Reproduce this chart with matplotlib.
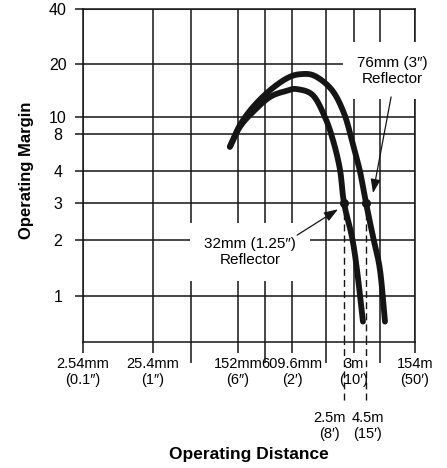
import numpy as np
import matplotlib
matplotlib.use('Agg')
import matplotlib.pyplot as plt
from matplotlib.ticker import NullFormatter, NullLocator

plt.rcParams['font.family'] = ['Liberation Sans', 'DejaVu Sans']
plt.rcParams['font.size'] = 11

# Operating distance (m) vs operating margin
dist_32 = [0.135, 0.160, 0.224, 0.347, 0.536, 0.698, 1.07, 1.48, 1.85, 2.24, 2.5, 2.89, 3.32, 4.06]
margin_32 = [6.3, 8.8, 10.7, 13.0, 14.1, 14.4, 13.3, 10.0, 7.1, 4.1, 3.0, 2.07, 1.38, 0.68]

dist_76 = [0.135, 0.160, 0.224, 0.347, 0.536, 0.757, 1.13, 1.80, 2.5, 2.89, 3.66, 4.5, 5.86, 7.62, 8.41]
margin_76 = [6.3, 9.0, 11.4, 14.2, 16.6, 17.5, 17.1, 14.2, 10.5, 7.1, 4.0, 3.0, 2.07, 1.38, 0.68]

# range at margin 3x
marked_dist = [2.5, 4.5]
marked_margin = [3, 3]
marked_labels = ['2.5m\n(8′)', '4.5m\n(15′)']
marked_shift = [-15, 2]  # label nudge, pixels

x_ticks = [0.00254, 0.0254, 0.152, 0.6096, 3.0, 15.24]
x_labels = ['2.54mm\n(0.1″)', '25.4mm\n(1″)', '152mm\n(6″)', '609.6mm\n(2′)', '3m\n(10′)', '154m\n(50′)']
x_minor = [0.0762, 0.3048, 1.524, 7.62]
y_ticks = [1, 2, 3, 4, 8, 10, 20, 40]

# the printed chart spaces its grid lines unevenly -> piecewise log scale
X_ANCHOR = [0.00254, 0.0254, 0.0762, 0.152, 0.3048, 0.6096, 1.524, 2.5, 3.0, 4.5, 7.62, 15.24]
X_POS = [0, 70, 108, 155, 182, 209, 243, 261, 271, 283, 297, 332]
Y_ANCHOR = [0.5, 1, 2, 3, 4, 8, 10, 20, 40]
Y_POS = [0, 46, 102, 139, 171, 208, 225, 278, 333]


def fwd_x(v):
    return np.interp(np.log10(np.maximum(v, 1e-9)), np.log10(X_ANCHOR), X_POS)


def inv_x(p):
    return 10 ** np.interp(p, X_POS, np.log10(X_ANCHOR))


def fwd_y(v):
    return np.interp(np.log10(np.maximum(v, 1e-9)), np.log10(Y_ANCHOR), Y_POS)


def inv_y(p):
    return 10 ** np.interp(p, Y_POS, np.log10(Y_ANCHOR))


def smooth(xs, ys, n=16):
    """Catmull-Rom through the points, done in scale space."""
    p = np.column_stack([fwd_x(np.asarray(xs)), fwd_y(np.asarray(ys))])
    p = np.vstack([2 * p[0] - p[1], p, 2 * p[-1] - p[-2]])
    t = np.linspace(0, 1, n, endpoint=False)[:, None]
    segs = []
    for i in range(1, len(p) - 2):
        p0, p1, p2, p3 = p[i - 1], p[i], p[i + 1], p[i + 2]
        segs.append(0.5 * (2 * p1 + (p2 - p0) * t + (2 * p0 - 5 * p1 + 4 * p2 - p3) * t ** 2
                           + (3 * p1 - p0 - 3 * p2 + p3) * t ** 3))
    segs.append(p[-2:-1])
    s = np.vstack(segs)
    return inv_x(s[:, 0]), inv_y(s[:, 1])


ink = '#151515'
fig = plt.figure(figsize=(4.47, 4.68), dpi=100)
ax = fig.add_axes([83 / 447, 126 / 468, 332 / 447, 333 / 468])
ax.set_xscale('function', functions=(fwd_x, inv_x))
ax.set_yscale('function', functions=(fwd_y, inv_y))
ax.set_xlim(X_ANCHOR[0], X_ANCHOR[-1])
ax.set_ylim(Y_ANCHOR[0], Y_ANCHOR[-1])

ax.set_xticks(x_ticks)
ax.set_xticklabels(x_labels)
ax.set_xticks(x_minor, minor=True)
ax.xaxis.set_minor_formatter(NullFormatter())
ax.set_yticks(y_ticks)
ax.set_yticklabels([str(v) for v in y_ticks])
ax.yaxis.set_minor_locator(NullLocator())
for lbl in ax.get_yticklabels():
    lbl.set_horizontalalignment('center')

ax.tick_params(axis='x', which='major', length=8, width=1.1, pad=3, color=ink, labelsize=10.5)
ax.tick_params(axis='x', which='minor', length=15, width=1.1, color=ink)
ax.tick_params(axis='y', which='major', length=6, width=1.1, pad=12, color=ink, labelsize=11.5)
ax.grid(True, which='both', axis='x', color=ink, lw=1.1)
ax.grid(True, which='major', axis='y', color=ink, lw=1.1)
for sp in ax.spines.values():
    sp.set_color(ink)
    sp.set_linewidth(1.1)

# dashed drop lines for the 3x points, continuing below the axis
ax.vlines(marked_dist, Y_ANCHOR[0], marked_margin, colors=ink, lw=1, linestyles=(0, (5, 3)), zorder=3)
ax.vlines(marked_dist, -0.175, 0, colors=ink, lw=1, linestyles=(0, (5, 3)),
          transform=ax.get_xaxis_transform(), clip_on=False)
for d, lab, dx in zip(marked_dist, marked_labels, marked_shift):
    ax.annotate(lab, xy=(d, -0.252), xycoords=ax.get_xaxis_transform(), xytext=(dx, 0),
                textcoords='offset pixels', ha='center', va='center', fontsize=10.5)

for xs, ys in [(dist_32, margin_32), (dist_76, margin_76)]:
    sx, sy = smooth(xs, ys)
    ax.plot(sx, sy, color=ink, lw=4.2, solid_capstyle='round', solid_joinstyle='round', zorder=4)
ax.plot(marked_dist, marked_margin, 'o', color=ink, ms=5.5, zorder=5)

box = dict(boxstyle='square,pad=0.9', fc='white', ec='none')
ax.text(0.503, 0.27, '32mm (1.25″)\nReflector', transform=ax.transAxes, ha='center', va='center',
        fontsize=11, bbox=box, zorder=3)
ax.text(0.931, 0.815, '76mm (3″)\nReflector', transform=ax.transAxes, ha='center', va='center',
        fontsize=11, bbox=box, zorder=3)

arrow = dict(arrowstyle='-|>,head_length=0.7,head_width=0.25', color=ink, lw=0.9,
             mutation_scale=12, shrinkA=0, shrinkB=0)
ax.annotate('', xy=(2.12, 2.80), xytext=(0.645, 0.321), textcoords='axes fraction',
            arrowprops=arrow, zorder=6)
ax.annotate('', xy=(5.86, 3.28), xytext=(0.928, 0.736), textcoords='axes fraction',
            arrowprops=arrow, zorder=6)

fig.text(27 / 447, 0.637, 'Operating Margin', rotation=90, ha='center', va='center',
         fontweight='bold', fontsize=12)
fig.text(0.557, 0.028, 'Operating Distance', ha='center', va='center',
         fontweight='bold', fontsize=12.5)

fig.savefig('out.png', dpi=100)
